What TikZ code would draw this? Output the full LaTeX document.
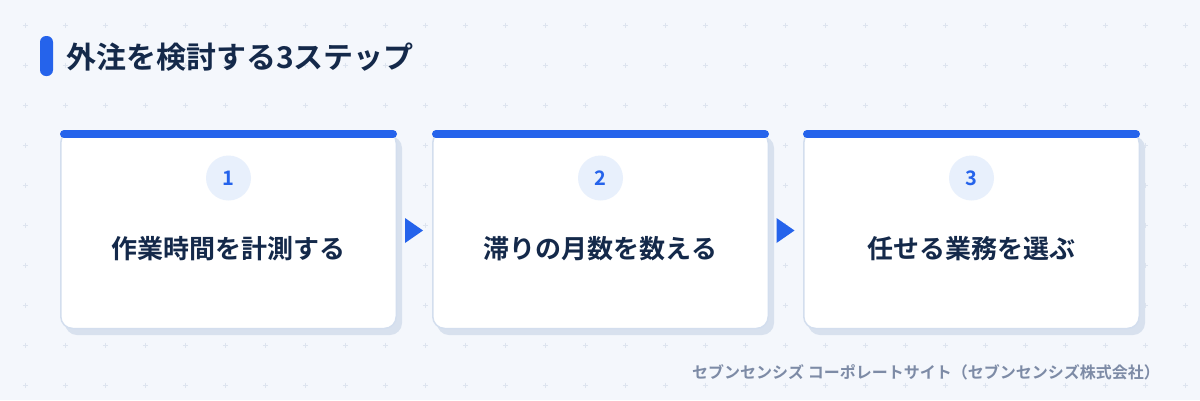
\documentclass[tikz,border=0pt]{standalone}
\usepackage{fontspec}
\newfontfamily\jpb{Noto Sans CJK JP Bold}
\definecolor{bgc}{HTML}{F4F7FC}
\definecolor{gridc}{HTML}{DDE4EF}
\definecolor{accent}{HTML}{2563EB}
\definecolor{navy}{HTML}{14294A}
\definecolor{cardline}{HTML}{D3DEEE}
\definecolor{shadowc}{HTML}{D8E1EE}
\definecolor{circfill}{HTML}{E8F0FC}
\definecolor{footc}{HTML}{7D8BA6}
\tikzset{
  cardshadow/.style={fill=shadowc, rounded corners=12pt},
  cardbox/.style={fill=white, draw=cardline, line width=1.5pt, rounded corners=12pt},
  topbar/.style={draw=accent, line width=8pt, line cap=round},
  numcirc/.style={circle, fill=circfill, minimum size=45pt, inner sep=0pt, text=accent, font=\jpb\fontsize{20}{24}\selectfont},
  steptext/.style={text=navy, font=\jpb\fontsize{26}{31}\selectfont, inner sep=0pt},
  arrowtri/.style={fill=accent},
  plusmark/.style={draw=gridc, line width=0.7pt}
}
\begin{document}
\begin{tikzpicture}[x=1pt,y=-1pt]
\fill[bgc] (0,0) rectangle (1200,400);
\useasboundingbox (0,0) rectangle (1200,400);
% grid of plus marks
\foreach \i in {0,...,29}{
  \foreach \j in {0,...,9}{
    \draw[plusmark] ({25+40*\i-2.5},{25+40*\j}) -- ({25+40*\i+2.5},{25+40*\j})
                    ({25+40*\i},{25+40*\j-2.5}) -- ({25+40*\i},{25+40*\j+2.5});
  }
}
% title
\fill[accent, rounded corners=6pt] (40,36) rectangle (53,76);
\node[anchor=west, text=navy, font=\jpb\fontsize{30}{36}\selectfont, inner sep=0pt] (title) at (66,57) {外注を検討する3ステップ};
% cards
\foreach \x/\n/\t [count=\k] in {60/1/作業時間を計測する, 432/2/滞りの月数を数える, 803/3/任せる業務を選ぶ}{
  \fill[cardshadow] (\x+5,136) rectangle (\x+342,335);
  \draw[cardbox] (\x+0.75,131) rectangle (\x+336.25,328.5);
  \draw[topbar] (\x+4,134) -- (\x+333,134);
  \node[numcirc] (num\k) at (\x+168.5,178) {\n};
  \node[steptext] (step\k) at (\x+168.5,249) {\t};
}
% arrows
\coordinate (a1) at (405,218);
\fill[arrowtri] (a1) -- ++(0,25) -- ++(18,-12.5) -- cycle;
\coordinate (a2) at (776.5,218);
\fill[arrowtri] (a2) -- ++(0,25) -- ++(18,-12.5) -- cycle;
% footer
\node[anchor=east, text=footc, font=\jpb\fontsize{16}{19}\selectfont, inner sep=0pt] (foot) at (1160,372) {セブンセンシズ コーポレートサイト（セブンセンシズ株式会社）};
\end{tikzpicture}
\end{document}
